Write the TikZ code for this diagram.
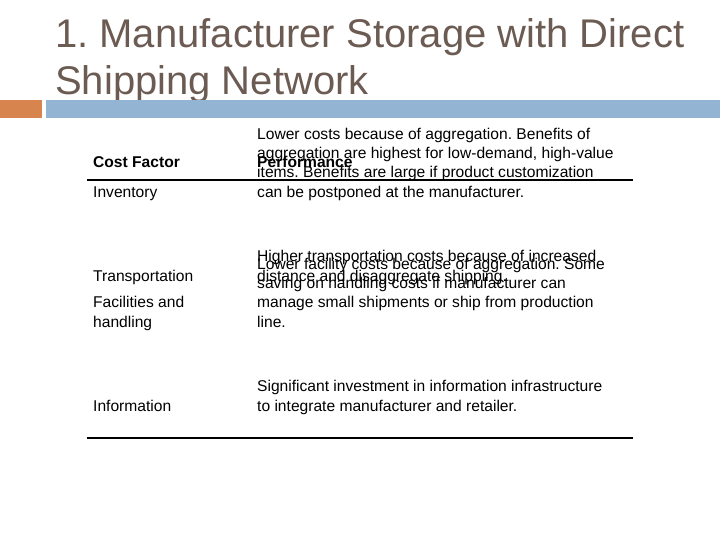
\documentclass[tikz,border=0pt]{standalone}
\usepackage{fontspec}
\setmainfont{Liberation Sans}
\frenchspacing
\definecolor{titlec}{HTML}{6B5B52}
\definecolor{orangec}{HTML}{D8844E}
\definecolor{bluec}{HTML}{94B4D4}
\begin{document}
\begin{tikzpicture}[x=1pt,y=-1pt,
  title/.style={anchor=north west,inner sep=0,text=titlec,font=\fontsize{40}{47}\selectfont,align=left},
  cell/.style={anchor=base west,inner sep=0,align=left,font=\fontsize{15.6}{19.3}\selectfont},
  hcell/.style={cell,font=\fontsize{15.6}{19.3}\selectfont\bfseries}]
\useasboundingbox (0,0) rectangle (720,540);
\node[title] (t) at (55,18) {1.\ Manufacturer Storage with Direct\\Shipping Network};
\fill[orangec] (0,100) rectangle (42,118);
\fill[bluec] (46,100) rectangle (720,118);
\node[hcell] (h1) at (93,168) {Cost Factor};
\node[hcell] (h2) at (257,168) {Performance};
\draw[line width=2pt] (87,180) -- (633,180);
\node[cell] (a1) at (93,197) {Inventory};
\node[cell] (a2) at (257,197) {Lower costs because of aggregation. Benefits of\\aggregation are highest for low-demand, high-value\\items. Benefits are large if product customization\\can be postponed at the manufacturer.};
\node[cell] (b1) at (93,281) {Transportation};
\node[cell] (b2) at (257,281) {Higher transportation costs because of increased\\distance and disaggregate shipping.};
\node[cell] (c1) at (93,327) {Facilities and\\handling};
\node[cell] (c2) at (257,327) {Lower facility costs because of aggregation. Some\\saving on handling costs if manufacturer can\\manage small shipments or ship from production\\line.};
\node[cell] (d1) at (93,411) {Information};
\node[cell] (d2) at (257,411) {Significant investment in information infrastructure\\to integrate manufacturer and retailer.};
\draw[line width=2pt] (87,438) -- (633,438);
\end{tikzpicture}
\end{document}
